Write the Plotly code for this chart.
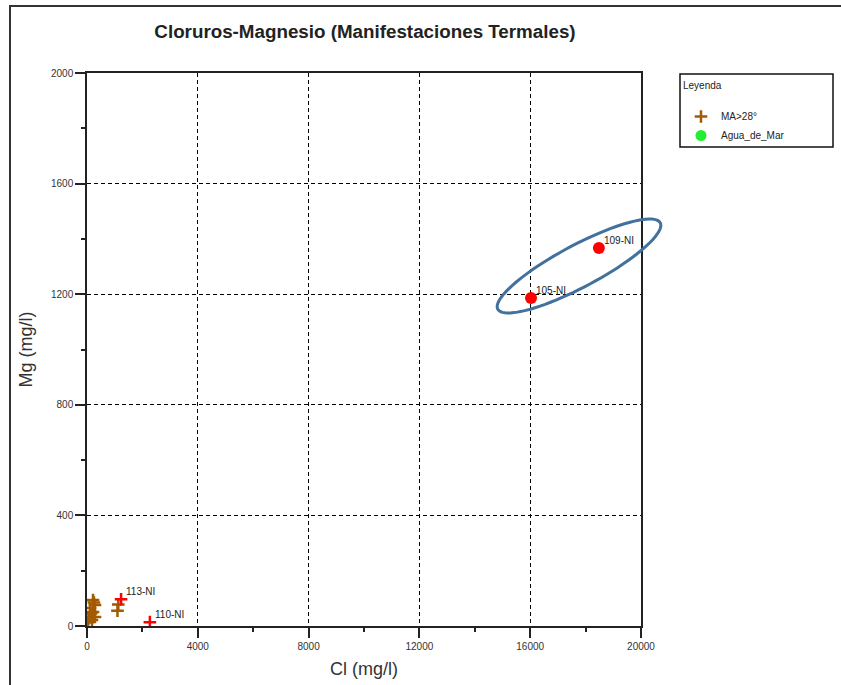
import numpy as np
import plotly.graph_objects as go

# ---- data ----
ma_cl = [36, 108, 180, 217, 289, 108, 217, 289, 150, 250, 60, 1130, 1100]
ma_mg = [14, 33, 22, 51, 33, 65, 94, 76, 45, 85, 28, 78, 55]

red_plus_cl = [1230, 2270]
red_plus_mg = [97, 14]
red_plus_lbl = ["113-NI", "110-NI"]

red_dot_cl = [16030, 18480]
red_dot_mg = [1186, 1367]
red_dot_lbl = ["105-NI", "109-NI"]

x_ticks = [0, 4000, 8000, 12000, 16000, 20000]
x_tick_text = ["0", "4000", "8000", "12000", "16000", "20000"]
y_ticks = [0, 400, 800, 1200, 1600, 2000]
y_tick_text = ["0", "400", "800", "1200", "1600", "2000"]

FONT = "Liberation Sans, Arial, sans-serif"
BROWN = "#A35A00"
RED = "#FF0000"

fig = go.Figure()
fig.add_trace(go.Scatter(
    x=ma_cl, y=ma_mg, mode="markers", name="MA>28°",
    marker=dict(symbol="cross-thin", size=9, color=BROWN,
                line=dict(color=BROWN, width=2.5))))
fig.add_trace(go.Scatter(
    x=[None], y=[None], mode="markers", name="Agua_de_Mar",
    marker=dict(symbol="circle", size=11, color="#22EE33")))
fig.add_trace(go.Scatter(
    x=red_plus_cl, y=red_plus_mg, mode="markers", showlegend=False,
    marker=dict(symbol="cross-thin", size=9, color=RED,
                line=dict(color=RED, width=2.5))))
fig.add_trace(go.Scatter(
    x=red_dot_cl, y=red_dot_mg, mode="markers", showlegend=False,
    marker=dict(symbol="circle", size=12, color=RED)))

for xs, ys, ls in [(red_plus_cl, red_plus_mg, red_plus_lbl),
                   (red_dot_cl, red_dot_mg, red_dot_lbl)]:
    for xv, yv, lv in zip(xs, ys, ls):
        fig.add_annotation(x=xv, y=yv, text=lv, showarrow=False,
                           xanchor="left", yanchor="bottom", xshift=3, yshift=0,
                           font=dict(family=FONT, size=10, color="#222222"))

# ellipse highlight (pixel geometry converted to paper coordinates, unclipped)
X0PX, X1PX, Y0PX, Y1PX = 87, 641, 626, 73
def px2paper_x(p):
    return (p - X0PX) / (X1PX - X0PX)
def px2paper_y(p):
    return (Y0PX - p) / (Y0PX - Y1PX)

cx, cy, a, b, th = 579, 266, 92, 21, np.deg2rad(28)
t = np.linspace(0, 2 * np.pi, 90)
px = cx + a * np.cos(t) * np.cos(th) - b * np.sin(t) * np.sin(th)
py = cy - (a * np.cos(t) * np.sin(th) + b * np.sin(t) * np.cos(th))
path = "M " + " L ".join(f"{px2paper_x(u):.4f},{px2paper_y(v):.4f}" for u, v in zip(px, py)) + " Z"
fig.add_shape(type="path", path=path, xref="paper", yref="paper",
              line=dict(color="#41719C", width=3), layer="above")

# outer frame of the screenshot
fig.add_shape(type="rect", xref="paper", yref="paper",
              x0=px2paper_x(10), x1=1.6, y0=-0.3, y1=px2paper_y(6),
              line=dict(color="#333333", width=2))
# legend box
fig.add_shape(type="rect", xref="paper", yref="paper",
              x0=px2paper_x(680), x1=px2paper_x(833), y0=px2paper_y(147), y1=px2paper_y(74),
              line=dict(color="#111111", width=1.5))

axis_common = dict(
    showline=True, linecolor="#222222", linewidth=1.5, mirror=True,
    ticks="outside", ticklen=10, tickcolor="#222222", tickwidth=1.5,
    showgrid=True, gridcolor="#000000", gridwidth=1, griddash="4px,3px",
    zeroline=False, automargin=False,
    tickfont=dict(family=FONT, size=10, color="#333333"),
)
fig.update_xaxes(range=[0, 20000], tickvals=x_ticks, ticktext=x_tick_text,
                 title=dict(text="Cl (mg/l)", font=dict(family=FONT, size=18, color="#333333"), standoff=12),
                 minor=dict(dtick=2000, ticks="outside", ticklen=4, tickcolor="#222222", showgrid=False),
                 **axis_common)
fig.update_yaxes(range=[0, 2000], tickvals=y_ticks, ticktext=y_tick_text,
                 title=dict(text="Mg (mg/l)", font=dict(family=FONT, size=18, color="#333333"), standoff=14),
                 minor=dict(dtick=200, ticks="outside", ticklen=4, tickcolor="#222222", showgrid=False),
                 **axis_common)

fig.update_layout(
    width=841, height=685,
    margin=dict(l=87, r=200, t=73, b=59, autoexpand=False),
    paper_bgcolor="white", plot_bgcolor="white",
    title=dict(text="<b>Cloruros-Magnesio (Manifestaciones Termales)</b>",
               x=365 / 841, xanchor="center", y=1 - 31 / 685, yanchor="middle",
               font=dict(family=FONT, size=18.8, color="#222222")),
    legend=dict(x=px2paper_x(681), y=px2paper_y(76), xanchor="left", yanchor="top",
                borderwidth=0, bgcolor="rgba(0,0,0,0)",
                title=dict(text="Leyenda<br> ", font=dict(family=FONT, size=10, color="#222222")),
                font=dict(family=FONT, size=10, color="#222222"),
                tracegroupgap=2, itemsizing="trace"),
    showlegend=True,
)

fig.write_html("out.html")
